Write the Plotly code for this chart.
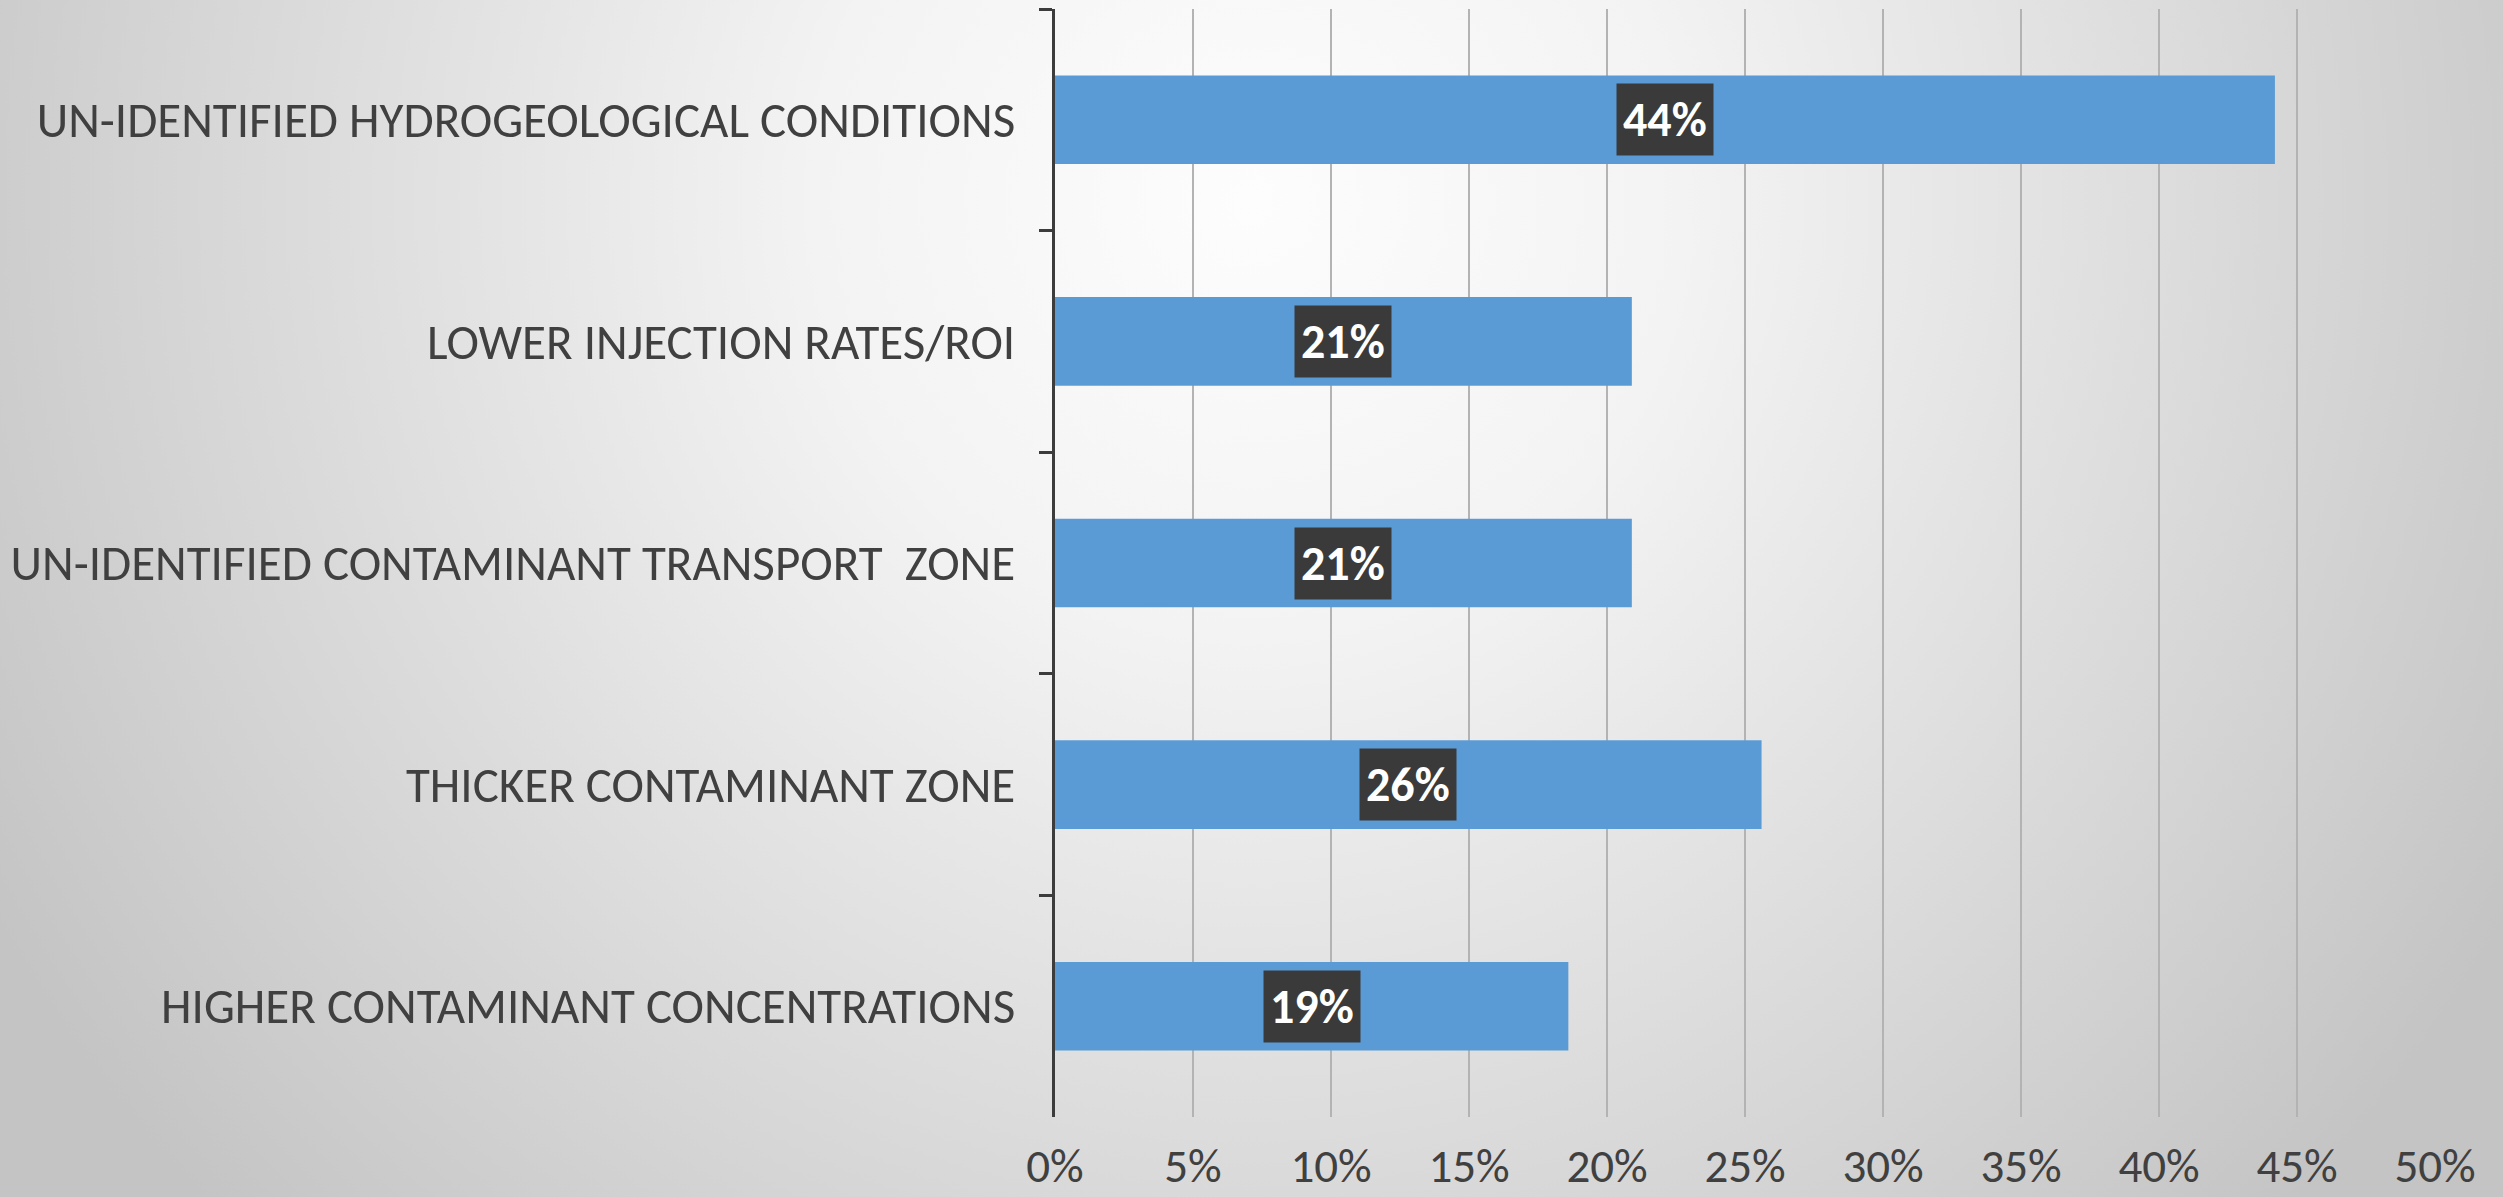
import base64
import plotly.graph_objects as go

# Survey results: share of responses per limitation (top to bottom)
categories = [
    "UN-IDENTIFIED HYDROGEOLOGICAL CONDITIONS",
    "LOWER INJECTION RATES/ROI",
    "UN-IDENTIFIED CONTAMINANT TRANSPORT\u00a0 ZONE",
    "THICKER CONTAMINANT ZONE",
    "HIGHER CONTAMINANT CONCENTRATIONS",
]
shares = [0.442, 0.209, 0.209, 0.256, 0.186]
tick_values = [0, 0.05, 0.10, 0.15, 0.20, 0.25, 0.30, 0.35, 0.40, 0.45, 0.50]
tick_labels = ["0%", "5%", "10%", "15%", "20%", "25%", "30%", "35%", "40%", "45%", "50%"]

W, H = 2503, 1197
M_L, M_R, M_T, M_B = 1055, 68, 9, 80

FONT = "Carlito, 'Liberation Sans Narrow', 'Open Sans', sans-serif"
TEXT = "#404040"

# Soft radial backdrop, brightest near the upper middle
bg_svg = f"""<svg xmlns='http://www.w3.org/2000/svg' width='{W}' height='{H}' viewBox='0 0 {W} {H}' preserveAspectRatio='none'>
<defs><radialGradient id='g' gradientUnits='userSpaceOnUse' cx='1250' cy='200' r='1450'>
<stop offset='0' stop-color='#fdfdfd'/><stop offset='0.3' stop-color='#f3f3f3'/>
<stop offset='1' stop-color='#c4c4c4'/></radialGradient></defs>
<rect x='0' y='0' width='{W}' height='{H}' fill='url(#g)'/></svg>"""
bg_src = "data:image/svg+xml;base64," + base64.b64encode(bg_svg.encode()).decode()

pw = W - M_L - M_R
ph = H - M_T - M_B

fig = go.Figure()
fig.add_trace(go.Bar(
    x=shares,
    y=categories,
    orientation="h",
    marker=dict(color="#5b9bd5", line=dict(width=0)),
    hoverinfo="skip",
))

# Value labels in dark boxes at the middle of each bar
for cat, v in zip(categories, shares):
    fig.add_annotation(
        x=v / 2, y=cat, xref="x", yref="y",
        text=f"<b>{v:.0%}</b>",
        showarrow=False,
        font=dict(family=FONT, size=48, color="white"),
        bgcolor="#3a3a3a",
        borderpad=6,
    )

fig.update_layout(
    width=W, height=H,
    margin=dict(l=M_L, r=M_R, t=M_T, b=M_B, pad=0, autoexpand=False),
    paper_bgcolor="#e6e6e6",
    plot_bgcolor="rgba(0,0,0,0)",
    bargap=0.6,
    showlegend=False,
    font=dict(family=FONT, color=TEXT),
    images=[dict(
        source=bg_src, xref="paper", yref="paper",
        x=-M_L / pw, y=1 + M_T / ph,
        sizex=W / pw, sizey=H / ph,
        sizing="stretch", layer="below", xanchor="left", yanchor="top",
    )],
    xaxis=dict(
        range=[0, 0.5],
        tickvals=tick_values,
        ticktext=tick_labels,
        showgrid=True,
        gridcolor="#b3b3b3",
        gridwidth=2,
        zeroline=False,
        showline=False,
        ticks="",
        tickfont=dict(family=FONT, size=47, color=TEXT),
        ticklabelstandoff=17,
        automargin=False,
        fixedrange=True,
    ),
    yaxis=dict(
        categoryorder="array",
        categoryarray=categories,
        autorange="reversed",
        showline=True,
        linecolor="#3c3c3c",
        linewidth=3,
        ticks="outside",
        tickson="boundaries",
        ticklen=13,
        tickwidth=3,
        tickcolor="#3c3c3c",
        showgrid=False,
        tickfont=dict(family=FONT, size=49, color=TEXT),
        ticklabelstandoff=27,
        automargin=False,
        fixedrange=True,
    ),
)

fig.write_html("out.html", config={"displayModeBar": False})
